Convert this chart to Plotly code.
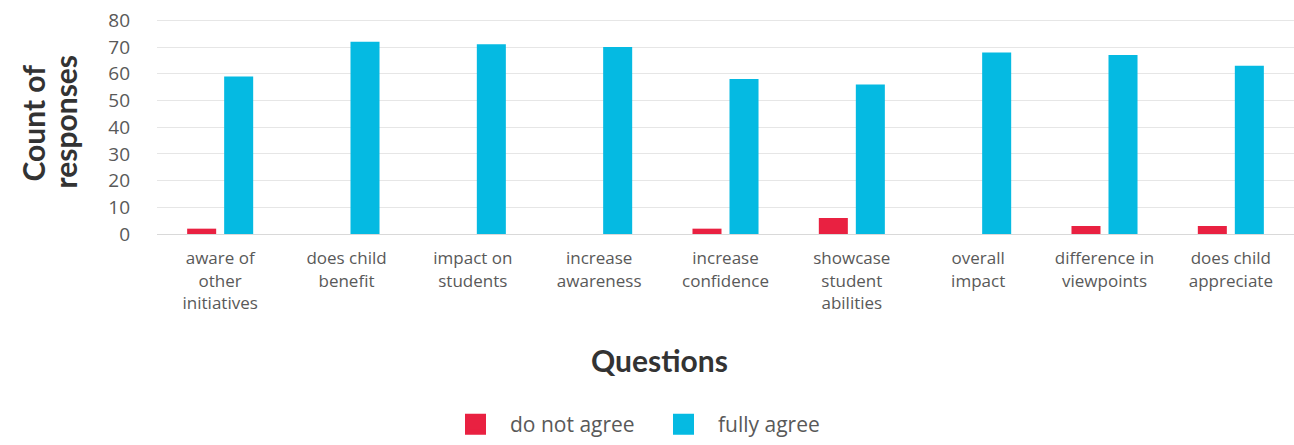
import plotly.graph_objects as go

categories = [
    "aware of<br>other<br>initiatives",
    "does child<br>benefit",
    "impact on<br>students",
    "increase<br>awareness",
    "increase<br>confidence",
    "showcase<br>student<br>abilities",
    "overall<br>impact",
    "difference in<br>viewpoints",
    "does child<br>appreciate",
]
do_not_agree = [2, 0, 0, 0, 2, 6, 0, 3, 3]
fully_agree = [59, 72, 71, 70, 58, 56, 68, 67, 63]
y_ticks = [0, 10, 20, 30, 40, 50, 60, 70, 80]
series_names = ["do not agree", "fully agree"]

RED = "#E92141"
BLUE = "#05BAE2"
TITLE_FONT = "Lato"
TEXT_FONT = "Open Sans"

# plot area spans x 157..1294, y 19..235 of the 1294x445 picture
PL, PT, PW, PH = 157, 19, 1137, 216


def px_x(x):
    return (x - PL) / PW


def px_y(y):
    return (PT + PH - y) / PH


fig = go.Figure()
for name, vals, col in [(series_names[0], do_not_agree, RED), (series_names[1], fully_agree, BLUE)]:
    fig.add_trace(go.Bar(name=name, x=categories, y=vals, legendgroup=name, showlegend=False,
                         marker=dict(color=col, line=dict(width=0))))
# legend entries (large square swatches)
for name, col in [(series_names[0], RED), (series_names[1], BLUE)]:
    fig.add_trace(go.Scatter(name=name, x=[None], y=[None], mode="markers", legendgroup=name,
                             marker=dict(symbol="square", size=16, color=col,
                                         line=dict(color=col, width=5))))

fig.update_layout(
    width=1294, height=445,
    margin=dict(l=PL, r=0, t=PT, b=445 - PT - PH),
    paper_bgcolor="white", plot_bgcolor="white",
    barmode="group", bargap=0.414, bargroupgap=0.216,
    font=dict(family=TEXT_FONT, color="#595959"),
    showlegend=True,
    legend=dict(orientation="h", x=px_x(441), xanchor="left", y=px_y(427), yanchor="middle",
                font=dict(size=21, color="#595959", family=TEXT_FONT),
                itemwidth=59, entrywidth=134, traceorder="normal"),
    xaxis=dict(showgrid=False, tickfont=dict(size=17, color="#595959"),
               showline=True, linecolor="#D9D9D9", linewidth=1, ticks="",
               automargin=False, ticklabelstandoff=9),
    yaxis=dict(range=[0, 80.5], tickvals=y_ticks, showgrid=True, gridcolor="#E6E6E6",
               gridwidth=1, zeroline=False, showline=False, automargin=False,
               tickfont=dict(size=19, color="#595959"), ticklabelstandoff=26),
    annotations=[
        dict(text="<b>Count of</b>", xref="paper", yref="paper",
             x=px_x(33), y=px_y(124), textangle=-90, showarrow=False,
             font=dict(size=30, color="#333333", family=TITLE_FONT),
             xanchor="center", yanchor="middle"),
        dict(text="<b>responses</b>", xref="paper", yref="paper",
             x=px_x(65), y=px_y(122), textangle=-90, showarrow=False,
             font=dict(size=30, color="#333333", family=TITLE_FONT),
             xanchor="center", yanchor="middle"),
        dict(text="<b>Questions</b>", xref="paper", yref="paper",
             x=px_x(659), y=px_y(362), showarrow=False,
             font=dict(size=30, color="#333333", family=TITLE_FONT),
             xanchor="center", yanchor="middle"),
    ],
)

fig.write_html("out.html", config={"displayModeBar": False},
               post_script="document.body.style.margin='0';")
